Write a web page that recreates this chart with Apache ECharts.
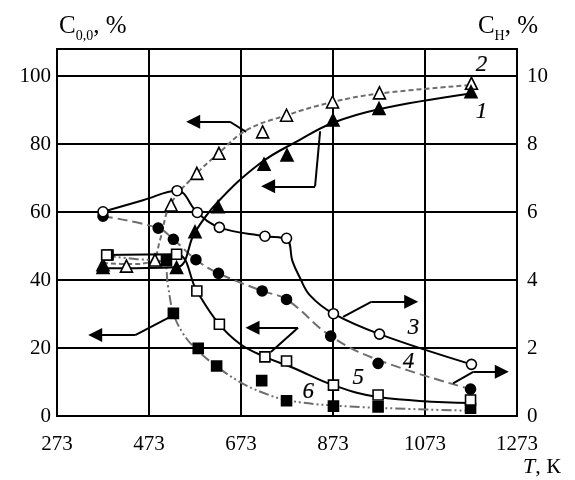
<!DOCTYPE html>
<html>
<head>
<meta charset="utf-8">
<script src="https://cdn.jsdelivr.net/npm/echarts@6/dist/echarts.min.js"></script>
<style>html,body{margin:0;padding:0;background:#fff;}#c{width:575px;height:480px;}</style>
</head>
<body>
<div id="c"></div>
<script>
// ---- data (T in K; curves 1,2,5,6 in C0,0 %, curves 3,4 in CH %) ----
const xTicks = [273, 473, 673, 873, 1073, 1273];
// measured points
const points1 = [[373,43.7],[533,43.7],[573,54.2],[623,61.6],[723,74.1],[773,76.8],[873,87.1],[973,90.5],[1173,95.4]];
const points2 = [[373,44.5],[424,44.1],[486,45.9],[521,62.1],[577,71.4],[625,77.3],[720,83.6],[772,88.5],[872,92.4],[974,95.1],[1174,97.9]];
const points3 = [[373,6.01],[534,6.63],[578,5.99],[626,5.55],[725,5.29],[772,5.23],[874,3.01],[974,2.41],[1174,1.52]];
const points4 = [[373,5.88],[493,5.53],[526,5.20],[575,4.60],[624,4.20],[719,3.68],[772,3.43],[868,2.35],[971,1.55],[1172,0.79]];
const points5 = [[381,47.4],[533,47.6],[577,36.8],[626,27.0],[725,17.4],[772,16.2],[874,9.1],[971,6.2],[1172,4.7]];
const points6 = [[384,47.4],[511,45.7],[526,30.2],[580,19.9],[620,14.7],[718,10.4],[772,4.5],[874,2.9],[971,2.7],[1172,2.3]];
// drawn (fitted) curves
const fit1 = [[373,43.5],[532,43.8],[573,54.1],[620,62.6],[714,74.3],[800,81.2],[873,86.3],[973,90.3],[1172,94.9]];
const fit2 = [[373,45.0],[432,44.7],[479,45.6],[497,51.8],[519,62.1],[577,71.4],[625,77.4],[685,84.1],[772,88.5],[872,92.4],[974,94.9],[1174,97.4]];
const fit3 = [[373,6.01],[460,6.35],[534,6.63],[578,5.99],[626,5.55],[725,5.29],[772,5.2],[785,4.55],[800,4.1],[823,3.55],[874,3.01],[974,2.41],[1174,1.52]];
const fit4 = [[373,5.88],[493,5.53],[526,5.20],[575,4.60],[624,4.20],[719,3.68],[772,3.43],[868,2.35],[971,1.65],[1172,0.79]];
const fit5 = [[373,47.4],[532,47.6],[577,36.8],[625,27.1],[671,21.2],[725,17.4],[786,14.2],[873,9.1],[971,5.6],[1173,3.8]];
const fit6 = [[379,47.1],[443,46.2],[505,45.2],[514,38.5],[526,30.2],[547,24.3],[573,20.0],[620,14.6],[671,10.0],[718,7.0],[772,4.7],[873,3.1],[1077,1.9],[1171,1.6]];
// arrows: [start on curve, corner, tip]
const arrowsLeft = [
  [[684,83.6],[649,86.6],[569,86.6]],
  [[845,83.8],[834,67.6],[732,67.6]],
  [[738,18.8],[797,26.0],[698,26.0]],
  [[519,29.2],[443,23.8],[356,23.8]]
];
const arrowsRight = [
  [[895,2.92],[956,3.36],[1043,3.36]],
  [[1134,0.96],[1178,1.30],[1240,1.30]]
];
const curveLabels = [
  {name:'1', value:[1196,89.5]},
  {name:'2', value:[1196,103.2]},
  {name:'3', value:[1048,25.8]},
  {name:'4', value:[1037,16.0]},
  {name:'5', value:[928,11.1]},
  {name:'6', value:[819,7.1]}
];

const serif = 'Liberation Serif';
const grey = '#6e6e6e';
const chart = echarts.init(document.getElementById('c'));

function shafts(arr){ return arr.map(a => ({coords:[a[0], a[1]]})); }
function heads(arr){ return arr.map(a => ({coords:[a[1], a[2]]})); }

function curveSeries(data, yIdx, color, type, z){
  return {
    type:'line', data:data, yAxisIndex:yIdx, smooth:0.4,
    symbol:'none', showSymbol:false, z:z, silent:true,
    lineStyle:{color:color, width:2, type:type},
    emphasis:{disabled:true}, animation:false
  };
}
function markerSeries(data, yIdx, symbol, filled, size){
  return {
    type:'scatter', data:data, yAxisIndex:yIdx, symbol:symbol, symbolSize:size, z:6, silent:true,
    itemStyle:{color: filled ? '#000' : '#fff', borderColor:'#000', borderWidth:1.6, opacity:1},
    emphasis:{disabled:true}, animation:false
  };
}

chart.setOption({
  animation:false,
  grid:{left:57, right:58, top:49, bottom:64, show:true, borderColor:'#000', borderWidth:2, backgroundColor:'transparent'},
  xAxis:{
    type:'value', min:273, max:1273, interval:200,
    axisLine:{show:true, lineStyle:{color:'#000', width:2}},
    axisTick:{show:false},
    splitLine:{show:true, lineStyle:{color:'#000', width:2}},
    axisLabel:{color:'#000', fontFamily:serif, fontSize:21, margin:18,
      formatter: v => xTicks.indexOf(v) >= 0 ? String(v) : ''}
  },
  yAxis:[
    {type:'value', min:0, max:108, interval:20, position:'left',
     axisLine:{show:true, lineStyle:{color:'#000', width:2}},
     axisTick:{show:false},
     splitLine:{show:true, lineStyle:{color:'#000', width:2}},
     axisLabel:{color:'#000', fontFamily:serif, fontSize:21, margin:6,
       formatter: v => (v % 20 === 0) ? String(v) : ''}},
    {type:'value', min:0, max:10.8, interval:2, position:'right',
     axisLine:{show:true, lineStyle:{color:'#000', width:2}},
     axisTick:{show:false},
     splitLine:{show:false},
     axisLabel:{color:'#000', fontFamily:serif, fontSize:21, margin:10,
       formatter: v => (Math.abs(v - Math.round(v)) < 1e-6 && Math.round(v) % 2 === 0) ? String(Math.round(v)) : ''}}
  ],
  graphic:[
    {type:'text', left:59, top:14, style:{text:'C{s|0,0}, %', fill:'#000', font:'25px '+serif,
      rich:{s:{fontSize:14, fontFamily:serif, verticalAlign:'bottom', padding:[0,0,-4,0]}}}},
    {type:'text', right:37, top:14, style:{text:'C{s|Н}, %', fill:'#000', font:'25px '+serif,
      rich:{s:{fontSize:14, fontFamily:serif, verticalAlign:'bottom', padding:[0,0,-4,0]}}}},
    {type:'text', right:14, top:456, style:{text:'{i|T}, К', fill:'#000', font:'22px '+serif,
      rich:{i:{fontStyle:'italic', fontSize:22, fontFamily:serif}}}}
  ],
  series:[
    curveSeries(fit2, 0, grey, [5,3], 3),
    curveSeries(fit1, 0, '#000', 'solid', 4),
    curveSeries(fit4, 1, grey, [10,5], 3),
    curveSeries(fit3, 1, '#000', 'solid', 4),
    curveSeries(fit6, 0, grey, [10,3,2,3,2,3], 3),
    curveSeries(fit5, 0, '#000', 'solid', 4),
    markerSeries(points2, 0, 'triangle', false, 12),
    markerSeries(points1, 0, 'triangle', true, 12),
    markerSeries(points4, 1, 'circle', true, 10),
    markerSeries(points3, 1, 'circle', false, 10),
    markerSeries(points6, 0, 'rect', true, 10),
    markerSeries(points5, 0, 'rect', false, 10),
    {type:'lines', coordinateSystem:'cartesian2d', yAxisIndex:0, data:shafts(arrowsLeft),
     symbol:'none', lineStyle:{color:'#000', width:2, opacity:1}, z:5, silent:true},
    {type:'lines', coordinateSystem:'cartesian2d', yAxisIndex:0, data:heads(arrowsLeft),
     symbol:['none','triangle'], symbolSize:[10,14], lineStyle:{color:'#000', width:2, opacity:1}, z:5, silent:true},
    {type:'lines', coordinateSystem:'cartesian2d', yAxisIndex:1, data:shafts(arrowsRight),
     symbol:'none', lineStyle:{color:'#000', width:2, opacity:1}, z:5, silent:true},
    {type:'lines', coordinateSystem:'cartesian2d', yAxisIndex:1, data:heads(arrowsRight),
     symbol:['none','triangle'], symbolSize:[10,14], lineStyle:{color:'#000', width:2, opacity:1}, z:5, silent:true},
    {type:'scatter', yAxisIndex:0, data:curveLabels, symbol:'circle', symbolSize:0.1,
     itemStyle:{color:'#000', opacity:1}, z:7, silent:true,
     label:{show:true, position:'inside', formatter: p => p.name, color:'#000', opacity:1,
       textBorderColor:'#000', textBorderWidth:0.2, fontFamily:serif, fontStyle:'italic', fontSize:23}}
  ]
});
</script>
</body>
</html>
